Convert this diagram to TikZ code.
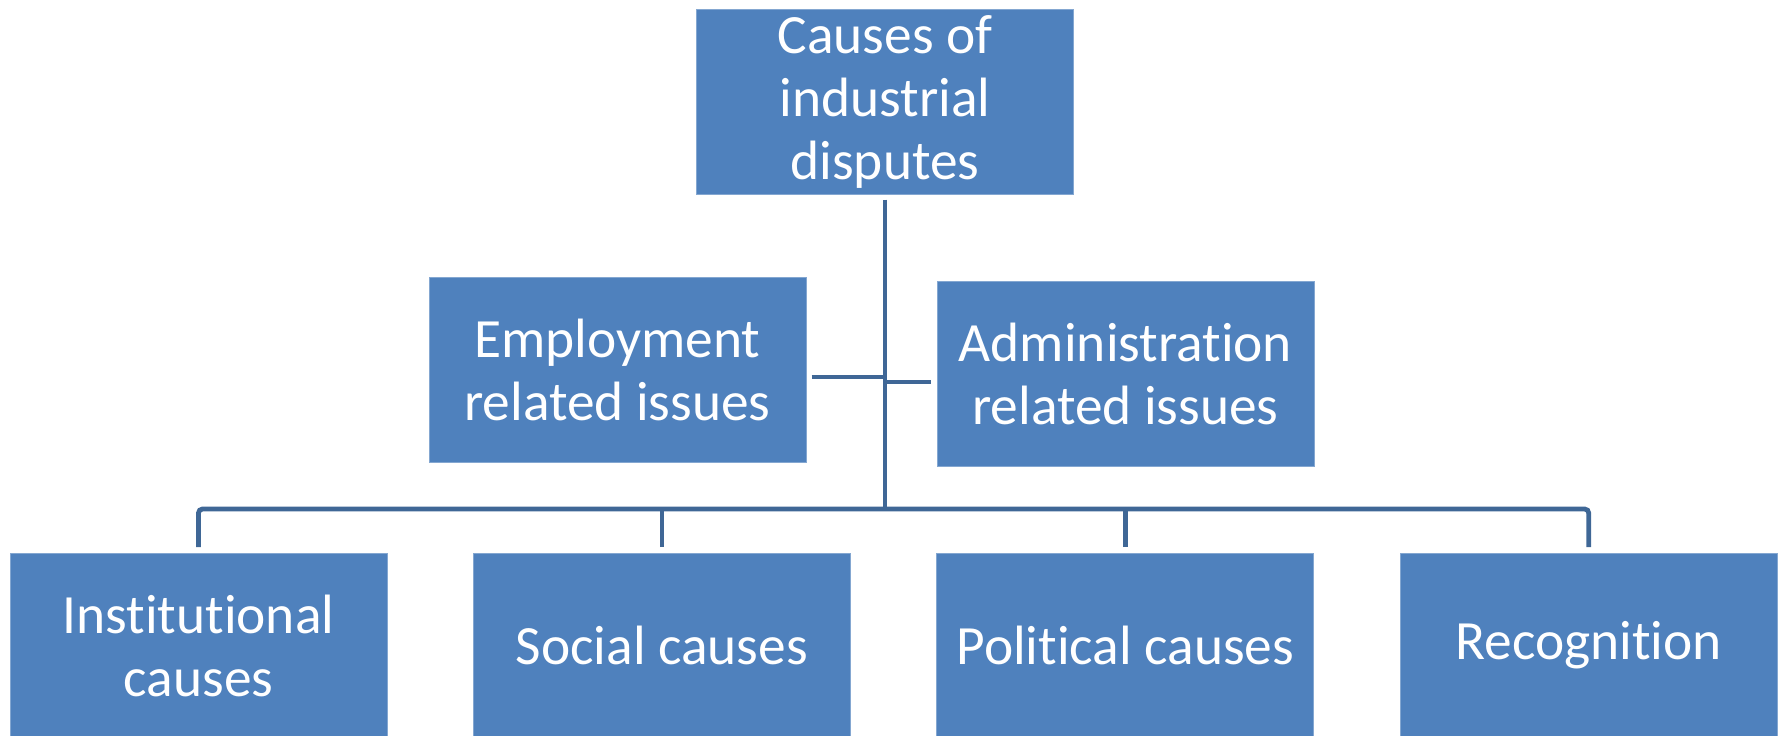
\documentclass[tikz,border=0pt]{standalone}
\usepackage{fontspec}
\setmainfont{Carlito}[Ligatures=NoCommon]
\usetikzlibrary{positioning}
\definecolor{boxblue}{HTML}{4F81BD}
\definecolor{linkblue}{HTML}{3F6796}
\tikzstyle{block} = [rectangle, draw=boxblue!70!white, line width=0.5pt, fill=boxblue,
text=white, align=center, inner sep=0pt, minimum width=188.5pt, minimum height=92.5pt,
font=\fontsize{27.7}{31.5}\selectfont]
\tikzstyle{link} = [draw=linkblue, line width=2.4pt]

\begin{document}
\begin{tikzpicture}[x=0.5pt, y=-0.5pt, node distance = 42.7pt]
\useasboundingbox (0,0) rectangle (1785,735);
\node [block] (causes) at (885,101.5) {Causes of\\industrial\\disputes};
\node [block] (employ) at (617.5,369.5) {Employment\\related issues};
\node [block] (admin) at (1125.5,374) {Administration\\related issues};
\node [block, minimum height=92pt, anchor=north] (instit) at (198.5,553) {Institutional\\causes};
\node [block, minimum height=92pt, right=of instit] (social) {Social causes};
\node [block, minimum height=92pt, right=of social] (politic) {Political causes};
\node [block, minimum height=92pt, right=of politic] (recog) {Recognition};
% connectors
\coordinate (bus) at (885,509);
\draw [link] ([yshift=-2.5pt]causes.south) -- (bus);
\draw [link, rounded corners=2pt] ([yshift=3pt]instit.north) |- (bus) -| ([yshift=3pt]recog.north);
\draw [link] ([yshift=3pt]social.north) -- (social.north |- bus);
\draw [link] ([yshift=3pt]politic.north) -- (politic.north |- bus);
\draw [link] ([xshift=2.5pt,yshift=-3.75pt]employ.east) coordinate (e1) -- (e1 -| bus);
\draw [link] ([xshift=-3pt,yshift=-4pt]admin.west) coordinate (a1) -- (a1 -| bus);
\end{tikzpicture}
\end{document}
